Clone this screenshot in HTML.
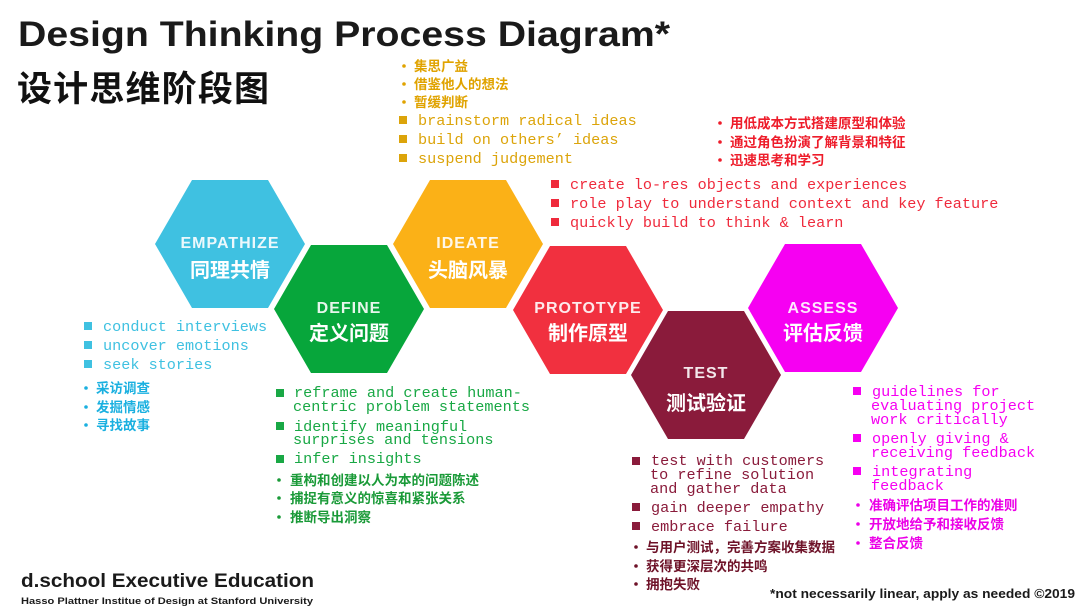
<!DOCTYPE html>
<html><head><meta charset="utf-8"><style>
html,body{margin:0;padding:0;background:#fff;}
svg{display:block;}
.m{font-family:"Liberation Mono",monospace;font-size:15.2px;}
.c{font-family:"Liberation Sans","Noto Sans CJK SC",sans-serif;font-size:13.5px;font-weight:bold;}
.hl{font-family:"Liberation Sans",sans-serif;font-weight:bold;font-size:16px;fill:#fff;letter-spacing:1px;text-anchor:middle;opacity:.9}
.hc{font-family:"Liberation Sans","Noto Sans CJK SC",sans-serif;font-weight:bold;font-size:20px;fill:#fff;text-anchor:middle;}
</style></head><body>
<svg width="1080" height="608" viewBox="0 0 1080 608" xmlns="http://www.w3.org/2000/svg">
<text x="18" y="46" font-family="Liberation Sans,sans-serif" font-weight="bold" font-size="35" fill="#1a1a1a" textLength="652" lengthAdjust="spacingAndGlyphs">Design Thinking Process Diagram*</text>
<text x="17" y="101" font-family="Liberation Sans,Noto Sans CJK SC,sans-serif" font-weight="bold" font-size="35" fill="#111" textLength="252">设计思维阶段图</text>

<!-- hexagons -->
<polygon points="155,244 192,180 268,180 305,244 268,308 192,308" fill="#3fc1e1"/>
<polygon points="274,309 311,245 387,245 424,309 387,373 311,373" fill="#07a63b"/>
<polygon points="393,244 430,180 506,180 543,244 506,308 430,308" fill="#fbb117"/>
<polygon points="513,310 550,246 626,246 663,310 626,374 550,374" fill="#f1303f"/>
<polygon points="631,375 668,311 744,311 781,375 744,439 668,439" fill="#8a1b3b"/>
<polygon points="748,308 785,244 861,244 898,308 861,372 785,372" fill="#f600f2"/>

<text class="hl" x="230" y="248">EMPATHIZE</text><text class="hc" x="230" y="277">同理共情</text>
<text class="hl" x="349" y="313">DEFINE</text><text class="hc" x="349" y="340">定义问题</text>
<text class="hl" x="468" y="248">IDEATE</text><text class="hc" x="468" y="277">头脑风暴</text>
<text class="hl" x="588" y="313">PROTOTYPE</text><text class="hc" x="588" y="340">制作原型</text>
<text class="hl" x="706" y="378">TEST</text><text class="hc" x="706" y="410">测试验证</text>
<text class="hl" x="823" y="313">ASSESS</text><text class="hc" x="823" y="340">评估反馈</text>

<!-- ideate -->
<g fill="#e0a300" class="c">
<circle cx="404" cy="66" r="1.8"/><text x="414" y="71">集思广益</text>
<circle cx="404" cy="84" r="1.8"/><text x="414" y="89">借鉴他人的想法</text>
<circle cx="404" cy="102" r="1.8"/><text x="414" y="107">暂缓判断</text>
</g>
<g fill="#dca40a">
<rect x="399" y="116" width="8" height="8"/><rect x="399" y="135" width="8" height="8"/><rect x="399" y="154" width="8" height="8"/>
<text class="m" x="418" y="125">brainstorm radical ideas</text>
<text class="m" x="418" y="144">build on others’ ideas</text>
<text class="m" x="418" y="163">suspend judgement</text>
</g>
<!-- prototype -->
<g fill="#ee1c2a" class="c">
<circle cx="720" cy="123" r="1.8"/><text x="730" y="128">用低成本方式搭建原型和体验</text>
<circle cx="720" cy="142" r="1.8"/><text x="730" y="147">通过角色扮演了解背景和特征</text>
<circle cx="720" cy="160" r="1.8"/><text x="730" y="165">迅速思考和学习</text>
</g>
<g fill="#ef2a3c">
<rect x="551" y="180" width="8" height="8"/><rect x="551" y="199" width="8" height="8"/><rect x="551" y="218" width="8" height="8"/>
<text class="m" x="570" y="189">create lo-res objects and experiences</text>
<text class="m" x="570" y="208">role play to understand context and key feature</text>
<text class="m" x="570" y="227">quickly build to think &amp; learn</text>
</g>
<!-- empathize -->
<g fill="#3fc1e1">
<rect x="84" y="322" width="8" height="8"/><rect x="84" y="341" width="8" height="8"/><rect x="84" y="360" width="8" height="8"/>
<text class="m" x="103" y="331">conduct interviews</text>
<text class="m" x="103" y="350">uncover emotions</text>
<text class="m" x="103" y="369">seek stories</text>
</g>
<g fill="#1ab0e0" class="c">
<circle cx="86" cy="388" r="1.8"/><text x="96" y="393">采访调查</text>
<circle cx="86" cy="407" r="1.8"/><text x="96" y="412">发掘情感</text>
<circle cx="86" cy="425" r="1.8"/><text x="96" y="430">寻找故事</text>
</g>
<!-- define -->
<g fill="#19a845">
<rect x="276" y="389" width="8" height="8"/><rect x="276" y="422" width="8" height="8"/><rect x="276" y="455" width="8" height="8"/>
<text class="m" x="294" y="397">reframe and create human-</text>
<text class="m" x="293" y="411">centric problem statements</text>
<text class="m" x="294" y="431">identify meaningful</text>
<text class="m" x="293" y="444">surprises and tensions</text>
<text class="m" x="294" y="463">infer insights</text>
</g>
<g fill="#1a9a38" class="c">
<circle cx="279" cy="480" r="1.8"/><text x="290" y="485">重构和创建以人为本的问题陈述</text>
<circle cx="279" cy="498" r="1.8"/><text x="290" y="503">捕捉有意义的惊喜和紧张关系</text>
<circle cx="279" cy="517" r="1.8"/><text x="290" y="522">推断导出洞察</text>
</g>
<!-- test -->
<g fill="#8a1b3b">
<rect x="632" y="457" width="8" height="8"/><rect x="632" y="503" width="8" height="8"/><rect x="632" y="522" width="8" height="8"/>
<text class="m" x="651" y="465">test with customers</text>
<text class="m" x="650" y="479">to refine solution</text>
<text class="m" x="650" y="493">and gather data</text>
<text class="m" x="651" y="512">gain deeper empathy</text>
<text class="m" x="651" y="531">embrace failure</text>
</g>
<g fill="#6e1228" class="c">
<circle cx="636" cy="547" r="1.8"/><text x="646" y="552">与用户测试，完善方案收集数据</text>
<circle cx="636" cy="566" r="1.8"/><text x="646" y="571">获得更深层次的共鸣</text>
<circle cx="636" cy="584" r="1.8"/><text x="646" y="589">拥抱失败</text>
</g>
<!-- assess -->
<g fill="#f600f2">
<rect x="853" y="387" width="8" height="8"/><rect x="853" y="434" width="8" height="8"/><rect x="853" y="467" width="8" height="8"/>
<text class="m" x="872" y="396">guidelines for</text>
<text class="m" x="871" y="410">evaluating project</text>
<text class="m" x="871" y="424">work critically</text>
<text class="m" x="872" y="443">openly giving &amp;</text>
<text class="m" x="871" y="457">receiving feedback</text>
<text class="m" x="872" y="476">integrating</text>
<text class="m" x="871" y="490">feedback</text>
</g>
<g fill="#ec00e8" class="c">
<circle cx="858" cy="505" r="1.8"/><text x="869" y="510">准确评估项目工作的准则</text>
<circle cx="858" cy="524" r="1.8"/><text x="869" y="529">开放地给予和接收反馈</text>
<circle cx="858" cy="543" r="1.8"/><text x="869" y="548">整合反馈</text>
</g>
<!-- footer -->
<text x="21" y="587" font-family="Liberation Sans,sans-serif" font-weight="bold" font-size="19" fill="#1a1a1a" textLength="293" lengthAdjust="spacingAndGlyphs">d.school Executive Education</text>
<text x="21" y="604" font-family="Liberation Sans,sans-serif" font-weight="bold" font-size="9.5" fill="#1a1a1a" textLength="292" lengthAdjust="spacingAndGlyphs">Hasso Plattner Institue of Design at Stanford University</text>
<text x="770" y="598" font-family="Liberation Sans,sans-serif" font-weight="bold" font-size="12.5" fill="#1a1a1a" textLength="305" lengthAdjust="spacingAndGlyphs">*not necessarily linear, apply as needed  ©2019</text>
</svg>
</body></html>
